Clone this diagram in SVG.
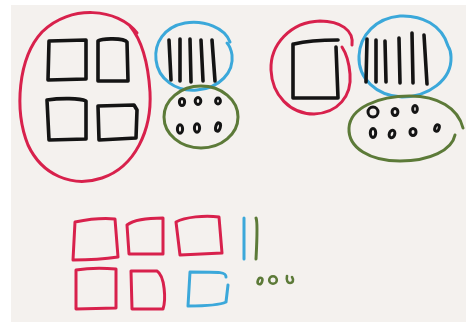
<svg xmlns="http://www.w3.org/2000/svg" width="466" height="322" viewBox="0 0 466 322">
<style>
path,ellipse,line{fill:none;stroke-linecap:round;stroke-linejoin:round}
.k{stroke:#141414;stroke-width:3.6}
.r{stroke:#d8214c;stroke-width:3}
.b{stroke:#3ba8da;stroke-width:3}
.g{stroke:#5c7a38;stroke-width:3}
.d{stroke:#141414;stroke-width:3}
.gd{stroke:#5c7a38;stroke-width:2.6}
</style>
<rect width="466" height="322" fill="#ffffff"/>
<rect x="11" y="5" width="455" height="317" fill="#f4f1ee"/>

<g id="cluster-left">
  <path class="r" d="M137 33 C118 8 70 4 42 32 C18 58 14 110 28 145 C42 175 72 188 102 178 C135 167 152 130 150 92 C148 60 140 38 130 26"/>
  <path class="k" d="M49 41 L86 40 L86 79 L48 80 Z"/>
  <path class="k" d="M98 41 C102 38 124 38 127 42 L128 81 L98 81 Z"/>
  <path class="k" d="M47 100 C60 98 80 98 86 101 L86 139 L49 140 Z"/>
  <path class="k" d="M98 106 L134 105 L137 110 L136 138 L99 140 Z"/>
</g>

<g id="bars-left">
  <path class="b" d="M230 42 C225 28 205 20 185 23 C164 27 154 43 156 60 C158 79 176 92 197 90 C220 88 234 72 232 55 C231 49 229 45 227 43"/>
  <path class="k" d="M169 40 L171 80"/>
  <path class="k" d="M180 39 L180 81"/>
  <path class="k" d="M190 39 L191 82"/>
  <path class="k" d="M201 40 L203 81"/>
  <path class="k" d="M212 40 L215 81"/>
</g>

<g id="dots-left">
  <ellipse class="g" cx="201" cy="117" rx="37" ry="31"/>
  <ellipse class="d" cx="182" cy="102" rx="2.6" ry="3.6"/>
  <ellipse class="d" cx="198" cy="101" rx="2.8" ry="3.4"/>
  <ellipse class="d" cx="218" cy="101" rx="2.4" ry="3"/>
  <ellipse class="d" cx="180" cy="129" rx="2.6" ry="4.2"/>
  <ellipse class="d" cx="197" cy="128" rx="2.6" ry="4.2"/>
  <ellipse class="d" cx="218" cy="127" rx="2.3" ry="4.2" transform="rotate(15 218 127)"/>
</g>

<g id="cluster-right">
  <path class="r" d="M352 45 C354 30 340 21 320 21 C290 22 270 45 271 70 C272 95 290 114 314 114 C338 113 352 96 350 74 C349 62 346 53 342 47"/>
  <path class="k" d="M294 44 C310 40 326 40 338 40 M293 44 L293 98 L338 98 L336 47"/>
</g>

<g id="bars-right">
  <path class="b" d="M448 46 C442 25 422 15 400 16 C376 18 360 35 359 56 C358 78 376 96 402 97 C428 97 452 80 451 57 C451 52 450 49 448 46"/>
  <path class="k" d="M367 39 L366 82"/>
  <path class="k" d="M376 40 L376 82"/>
  <path class="k" d="M385 41 L386 82"/>
  <path class="k" d="M399 38 L400 83"/>
  <path class="k" d="M412 33 L413 83"/>
  <path class="k" d="M424 35 L427 84"/>
</g>

<g id="dots-right">
  <path class="g" d="M463 128 C458 108 438 96 410 96 C378 96 350 108 349 128 C348 148 370 161 400 161 C430 161 452 150 455 135"/>
  <ellipse class="d" cx="373" cy="112" rx="5" ry="5"/>
  <ellipse class="d" cx="395" cy="112" rx="2.9" ry="3.4"/>
  <ellipse class="d" cx="415" cy="109" rx="2.3" ry="3.6"/>
  <ellipse class="d" cx="373" cy="133" rx="2.7" ry="4.4"/>
  <ellipse class="d" cx="392" cy="134" rx="2.7" ry="3.8" transform="rotate(20 392 134)"/>
  <ellipse class="d" cx="413" cy="132" rx="3" ry="3.6"/>
  <ellipse class="d" cx="437" cy="128" rx="2.1" ry="3.3" transform="rotate(20 437 128)"/>
</g>

<g id="bottom-squares">
  <path class="r" d="M75 222 C90 219 105 218 115 219 L118 257 C105 259 88 260 73 260 Z"/>
  <path class="r" d="M127 225 C135 219 150 218 163 218 L163 254 L129 254 Z"/>
  <path class="r" d="M176 222 C185 217 205 215 219 217 L222 253 L180 255 Z"/>
  <path class="r" d="M76 270 C88 268 105 268 116 269 L116 308 L76 309 Z"/>
  <path class="r" d="M131 271 L157 271 C165 276 166 300 163 309 L132 309 Z"/>
  <path class="b" d="M226 277 C226 272 222 272 190 272 L188 306 C205 306 220 305 226 302 L228 285"/>
</g>

<g id="bottom-marks">
  <path class="b" d="M244 218 L244 259"/>
  <path class="g" d="M256 218 C258 222 257 240 256 259"/>
  <ellipse class="gd" cx="260" cy="281" rx="2.2" ry="3.3" transform="rotate(20 260 281)"/>
  <ellipse class="gd" cx="273" cy="280" rx="3.8" ry="3.8"/>
  <path class="gd" d="M287 276 C286 281 288 283 290 283 C293 283 294 280 292 277"/>
</g>
</svg>
